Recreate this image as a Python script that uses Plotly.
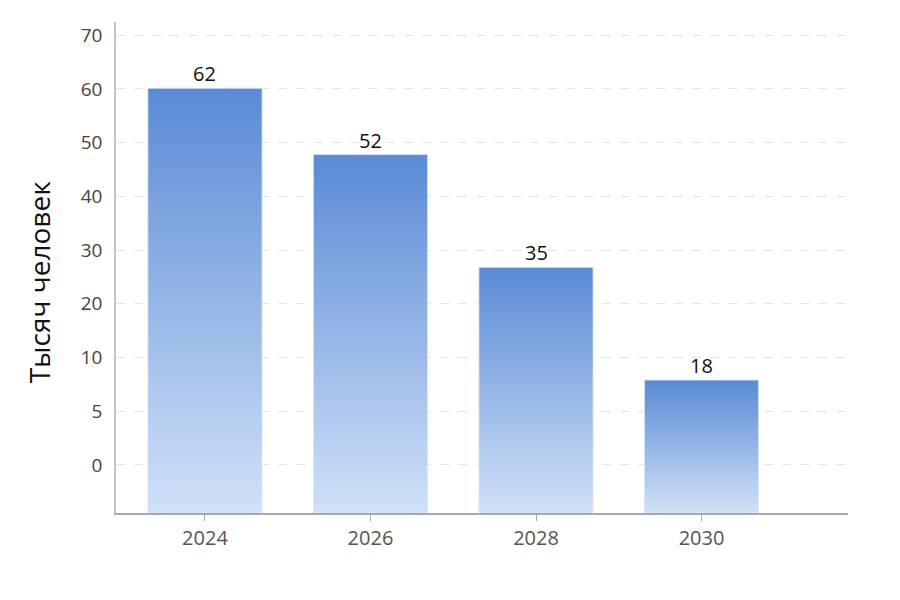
import plotly.graph_objects as go

# Data.
years = [2024, 2026, 2028, 2030]
people = [62, 52, 35, 18]  # thousands of people
tick_labels = ["0", "5", "10", "20", "30", "40", "50", "60", "70"]

bar_half = 0.69  # half bar width in years
light_blue = "#d0e1f8"
dark_blue = "#5a8ad5"

fig = go.Figure()

# Bars as filled shapes so they can carry a vertical gradient.
y_min = -2.05
for year, value in zip(years, people):
    fig.add_trace(go.Scatter(
        x=[year - bar_half, year - bar_half, year + bar_half, year + bar_half, year - bar_half],
        y=[y_min, value, value, y_min, y_min],
        fill="toself",
        fillgradient=dict(type="vertical", colorscale=[[0, light_blue], [1, dark_blue]]),
        mode="lines",
        line=dict(width=1, color="rgba(220,232,250,0.8)"),
        hoverinfo="skip",
        showlegend=False,
    ))

# Value labels above bars.
for year, value in zip(years, people):
    fig.add_annotation(
        x=year, y=value, text=str(value), showarrow=False,
        xanchor="center", yanchor="bottom", yshift=-1,
        font=dict(family="Open Sans", size=20, color="#111111"),
    )

# Evenly spaced ticks with the labels as printed in the reference.
tick_vals = [5.2 + 8.1 * i for i in range(len(tick_labels))]

fig.add_annotation(
    text="Тысяч человек", textangle=-90,
    xref="paper", yref="paper", x=-0.105, y=0.47,
    xanchor="center", yanchor="middle", showarrow=False,
    font=dict(family="Open Sans", size=28, color="#111111"),
)

# The page puts the figure 8px in from the top left corner.
fig.update_layout(
    width=900, height=600,
    margin=dict(l=108, r=60, t=14, b=95),
    paper_bgcolor="white", plot_bgcolor="white",
    font=dict(family="Open Sans", color="#555555"),
    xaxis=dict(
        range=[2022.925, 2031.77],
        tickvals=years, ticktext=[str(y) for y in years],
        tickfont=dict(size=20, color="#555555"),
        ticks="outside", ticklen=6, tickcolor="#aaaaaa",
        showline=True, linecolor="#aaaaaa", linewidth=1.5,
        showgrid=False, zeroline=False,
    ),
    yaxis=dict(
        range=[y_min, 72.0],
        tickvals=tick_vals, ticktext=tick_labels,
        tickfont=dict(size=19, color="#444444"),
        ticklabelstandoff=8,
        showline=True, linecolor="#c4c4cc", linewidth=1.5,
        showgrid=True, gridcolor="#e4e4e4", griddash="dash", gridwidth=1,
        zeroline=False,
    ),
)

fig.write_html("out.html")
